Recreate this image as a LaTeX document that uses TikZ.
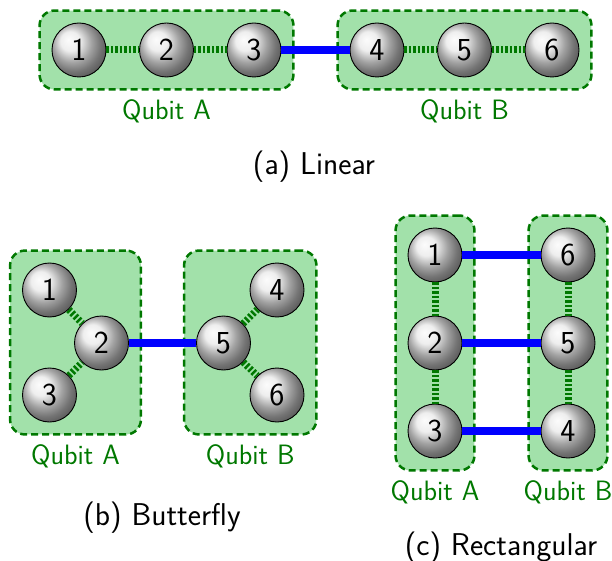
\documentclass[tikz,border=0pt]{standalone}
\usepackage{fontspec}
\usetikzlibrary{fit,backgrounds}
\definecolor{qfill}{RGB}{162,225,170}
\definecolor{qgreen}{RGB}{0,120,0}
\begin{document}
\begin{tikzpicture}[x=1pt,y=-1pt,
  ballnode/.style={circle, minimum size=54pt, inner sep=0pt, draw=black, line width=0.9pt,
    shading=ball, ball color=gray!18, font=\sffamily\fontsize{32}{38}\selectfont},
  qbox/.style={rounded corners=15pt, fill=qfill, draw=qgreen, line width=2.5pt,
    dash pattern=on 7pt off 4pt, inner sep=12pt},
  qlab/.style={anchor=base, text=qgreen, font=\sffamily\fontsize{28}{33}\selectfont},
  capt/.style={anchor=base, font=\sffamily\fontsize{31.5}{37}\selectfont},
  intra/.style={line width=7pt, draw=qgreen, dash pattern=on 2.5pt off 2pt},
  inter/.style={line width=8pt, draw=blue}]
\useasboundingbox (0,0) rectangle (612,561);

% (a) Linear
\node[ballnode] (l1) at (79,50) {1};
\node[ballnode] (l2) at (166.5,50) {2};
\node[ballnode] (l3) at (254,50) {3};
\node[ballnode] (l4) at (377,50) {4};
\node[ballnode] (l5) at (464.5,50) {5};
\node[ballnode] (l6) at (552,50) {6};
\begin{scope}[on background layer]
\node[qbox, fit=(l1)(l3)] (lA) {};
\node[qbox, fit=(l4)(l6)] (lB) {};
\end{scope}
\draw[intra] (l1) -- (l2);
\draw[intra] (l2) -- (l3);
\draw[intra] (l4) -- (l5);
\draw[intra] (l5) -- (l6);
\draw[inter] (l3) -- (l4);
\node[qlab] (lAl) at ([yshift=-29pt]lA.south) {Qubit A};
\node[qlab] (lBl) at ([yshift=-29pt]lB.south) {Qubit B};
\node[capt] (ca) at (314,175) {(a) Linear};

% (b) Butterfly
\node[ballnode] (b1) at (49.5,290) {1};
\node[ballnode] (b2) at (101.5,343) {2};
\node[ballnode] (b3) at (49.5,395) {3};
\node[ballnode] (b5) at (223.5,343) {5};
\node[ballnode] (b4) at (277,290) {4};
\node[ballnode] (b6) at (277,395) {6};
\begin{scope}[on background layer]
\node[qbox, fit=(b1)(b2)(b3)] (bA) {};
\node[qbox, fit=(b4)(b5)(b6)] (bB) {};
\end{scope}
\draw[intra] (b1) -- (b2);
\draw[intra] (b3) -- (b2);
\draw[intra] (b5) -- (b4);
\draw[intra] (b5) -- (b6);
\draw[inter] (b2) -- (b5);
\node[qlab] (bAl) at ([yshift=-29pt]bA.south) {Qubit A};
\node[qlab] (bBl) at ([yshift=-29pt]bB.south) {Qubit B};
\node[capt] (cb) at (162,525) {(b) Butterfly};

% (c) Rectangular
\node[ballnode] (r1) at (435,255) {1};
\node[ballnode] (r2) at (435,343) {2};
\node[ballnode] (r3) at (435,431) {3};
\node[ballnode] (r6) at (568,255) {6};
\node[ballnode] (r5) at (568,343) {5};
\node[ballnode] (r4) at (568,431) {4};
\begin{scope}[on background layer]
\node[qbox, fit=(r1)(r3)] (rA) {};
\node[qbox, fit=(r6)(r4)] (rB) {};
\end{scope}
\draw[intra] (r1) -- (r2);
\draw[intra] (r2) -- (r3);
\draw[intra] (r6) -- (r5);
\draw[intra] (r5) -- (r4);
\draw[inter] (r1) -- (r6);
\draw[inter] (r2) -- (r5);
\draw[inter] (r3) -- (r4);
\node[qlab] (rAl) at ([yshift=-29pt]rA.south) {Qubit A};
\node[qlab] (rBl) at ([yshift=-29pt]rB.south) {Qubit B};
\node[capt] (cc) at (501,555) {(c) Rectangular};
\end{tikzpicture}
\end{document}
